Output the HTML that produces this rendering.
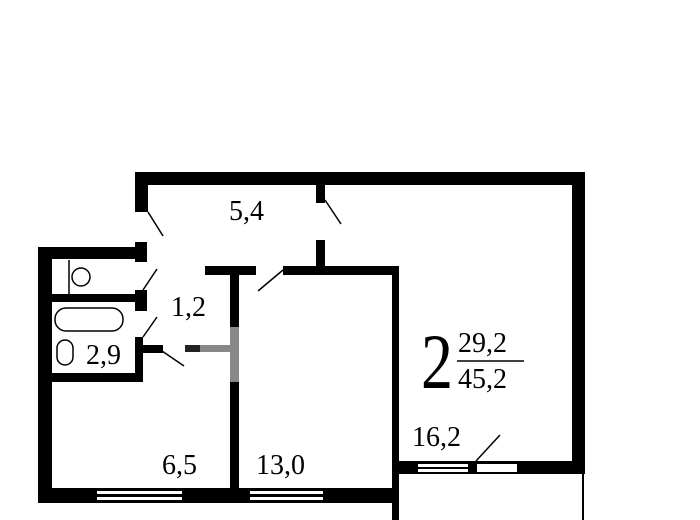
<!DOCTYPE html>
<html><head><meta charset="utf-8"><style>html,body{margin:0;padding:0;background:#fff}svg{display:block}text{font-family:"Liberation Serif",serif;fill:#000}</style></head>
<body>
<svg width="700" height="520" viewBox="0 0 700 520" xmlns="http://www.w3.org/2000/svg">
<g fill="#000">
<rect x="135" y="172" width="450" height="13"/>
<rect x="135" y="172" width="13" height="40"/>
<rect x="572" y="172" width="13" height="302"/>
<rect x="38" y="247" width="14" height="256"/>
<rect x="38" y="247" width="109" height="12"/>
<rect x="135" y="242" width="12" height="20"/>
<rect x="52" y="294" width="95" height="8"/>
<rect x="135" y="290" width="12" height="21"/>
<rect x="52" y="373" width="91" height="9"/>
<rect x="135" y="337" width="8" height="45"/>
<rect x="143" y="345" width="20" height="8"/>
<rect x="185" y="345" width="15" height="7" fill="#222"/>
<rect x="200" y="345" width="30" height="7" fill="#888"/>
<rect x="38" y="488" width="361" height="15"/>
<rect x="230" y="273" width="9" height="215"/>
<rect x="230" y="327" width="9" height="55" fill="#888"/>
<rect x="205" y="266" width="51" height="9"/>
<rect x="283" y="266" width="116" height="9"/>
<rect x="392" y="266" width="7" height="254"/>
<rect x="316" y="240" width="9" height="30"/>
<rect x="316" y="185" width="9" height="18"/>
<rect x="399" y="461" width="186" height="13"/>
<rect x="582" y="474" width="2" height="46"/>
</g>
<g fill="#fff">
<rect x="97" y="491" width="85" height="3"/><rect x="97" y="497" width="85" height="3"/>
<rect x="250" y="491" width="73" height="3"/><rect x="250" y="497" width="73" height="3"/>
<rect x="418" y="464" width="50" height="3"/><rect x="418" y="469" width="50" height="3"/>
<rect x="477" y="464" width="40" height="8"/>
</g>
<g stroke="#000" stroke-width="1.5" fill="none">
<line x1="148" y1="212" x2="163" y2="236"/>
<line x1="325" y1="200" x2="341" y2="224"/>
<line x1="283" y1="270" x2="258" y2="291"/>
<line x1="143" y1="290" x2="157" y2="269"/>
<line x1="143" y1="337" x2="157" y2="317"/>
<line x1="162" y1="351" x2="184" y2="366"/>
<line x1="476" y1="461" x2="500" y2="435"/>
<line x1="69" y1="260" x2="69" y2="294"/>
<circle cx="81" cy="277" r="9"/>
<rect x="55" y="308" width="68" height="23" rx="11"/>
<rect x="57" y="340" width="16" height="25" rx="8"/>
<line x1="457" y1="361" x2="524" y2="361"/>
</g>
<g font-size="28">
<text x="229" y="220">5,4</text>
<text x="171" y="316">1,2</text>
<text x="86" y="364">2,9</text>
<text x="162" y="474">6,5</text>
<text x="256" y="474">13,0</text>
<text x="412" y="446">16,2</text>
<text x="458" y="352">29,2</text>
<text x="458" y="388">45,2</text>
</g>
<text font-size="78" transform="translate(421,388) scale(0.82,1)">2</text>
</svg>
</body></html>
